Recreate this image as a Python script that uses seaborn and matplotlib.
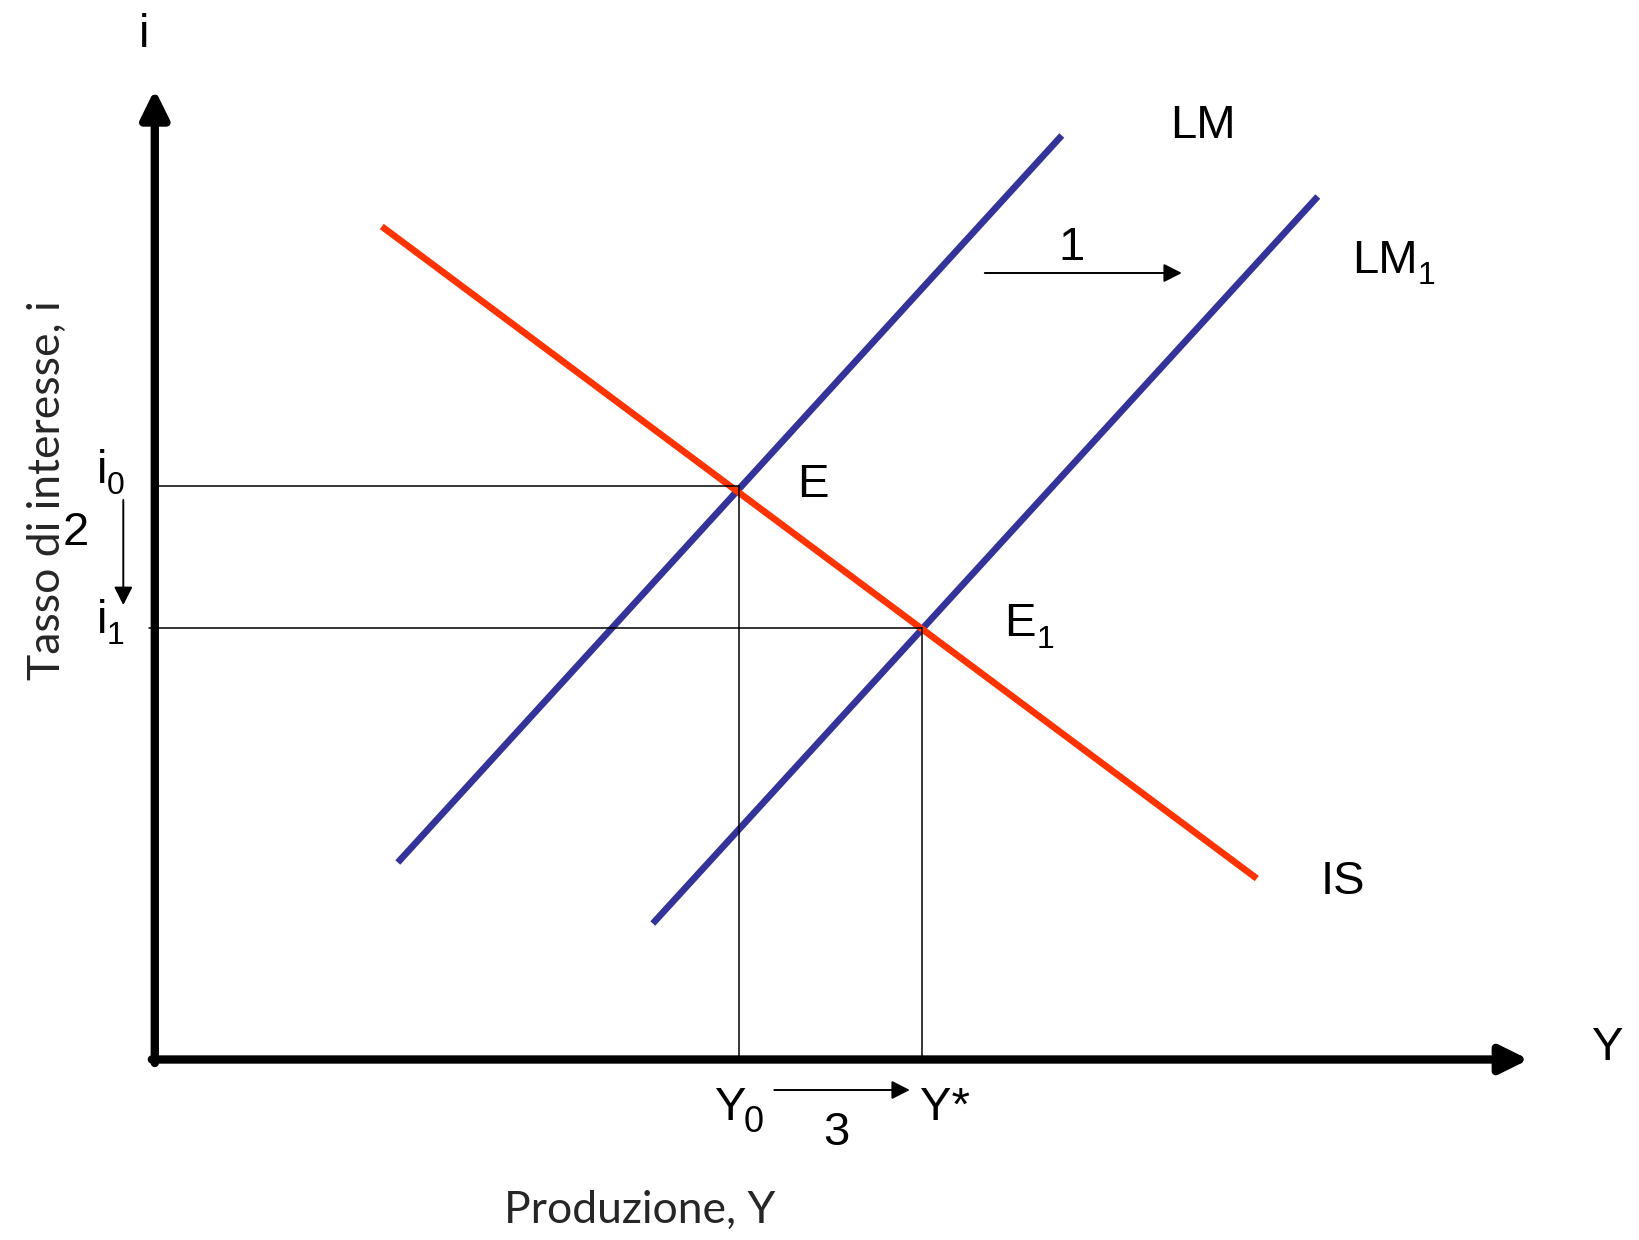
import pandas as pd
import matplotlib
matplotlib.use("Agg")
import matplotlib.pyplot as plt
import seaborn as sns

# ===== DATA (schematic IS-LM, arbitrary units, origin at axes corner) =====
curve_names = ['LM', 'LM', 'LM1', 'LM1', 'IS', 'IS']
curve_y = [2.43, 9.07, 4.98, 11.63, 2.27, 11.02]
curve_i = [1.97, 9.24, 1.36, 8.63, 8.33, 1.81]

eq_E = (5.84, 5.74)     # (Y0, i0)
eq_E1 = (7.67, 4.32)    # (Y*, i1)

axis_y_max = 13.74
axis_i_max = 9.70

# ===== STYLE =====
sns.set_theme(style='white')
plt.rcParams['font.family'] = ['Liberation Sans', 'DejaVu Sans']

colors = {'LM': '#333399', 'LM1': '#333399', 'IS': '#FF3300'}
fs = 34

fig = plt.figure(figsize=(16.4, 12.4), dpi=100)
ax = fig.add_axes([0, 0, 1, 1])
ax.set_xlim(-1.548, 14.852)
ax.set_ylim(-1.805, 10.595)
ax.axis('off')

# ===== CURVES =====
df = pd.DataFrame({'curve': curve_names, 'Y': curve_y, 'i': curve_i})
sns.lineplot(data=df, x='Y', y='i', hue='curve', palette=colors, units='curve',
             estimator=None, sort=False, linewidth=4.8, legend=False, ax=ax,
             solid_capstyle='butt')

# ===== GUIDE LINES =====
ax.plot([0, eq_E[0]], [eq_E[1], eq_E[1]], color='black', lw=1.1)
ax.plot([eq_E[0], eq_E[0]], [0, eq_E[1]], color='black', lw=1.1)
ax.plot([-0.06, eq_E1[0]], [eq_E1[1], eq_E1[1]], color='black', lw=1.1)
ax.plot([eq_E1[0], eq_E1[0]], [0, eq_E1[1]], color='black', lw=1.1)

# ===== AXES WITH ARROWS =====
big = dict(arrowstyle='-|>,head_length=0.85,head_width=0.42', color='black',
           lw=6, mutation_scale=20, shrinkA=0, shrinkB=0)
ax.annotate('', xy=(axis_y_max, 0), xytext=(-0.03, 0), arrowprops=big)
ax.annotate('', xy=(0, axis_i_max), xytext=(0, -0.035), arrowprops=big)

small = dict(arrowstyle='-|>,head_length=0.55,head_width=0.28', color='black',
             lw=1.4, mutation_scale=20, shrinkA=0, shrinkB=0)
ax.annotate('', xy=(10.27, 7.865), xytext=(8.30, 7.865), arrowprops=small)
ax.annotate('', xy=(-0.315, 4.545), xytext=(-0.315, 5.595), arrowprops=small)
ax.annotate('', xy=(7.55, -0.305), xytext=(6.195, -0.305), arrowprops=small)

# ===== LABELS =====
renderer = fig.canvas.get_renderer()


def label(x, y, s, ha='left', sub=None, sub_size=23, gap=0, drop=8):
    t = ax.text(x, y, s, fontsize=fs, ha=ha, va='baseline', color='black')
    if sub:
        w = t.get_window_extent(renderer).width * 72 / fig.dpi
        ax.annotate(sub, xy=(x, y), xytext=(w + gap, -drop), textcoords='offset points',
                    fontsize=sub_size, ha='left', va='baseline', color='black')


label(-0.157, 10.124, 'i')
label(14.37, -0.005, 'Y')
label(10.15, 9.212, 'LM')
label(11.97, 7.862, 'LM', sub='1', gap=0)
label(11.66, 1.653, 'IS')
label(6.42, 5.627, 'E')
label(8.49, 4.23, 'E', sub='1', gap=0.8)
label(9.17, 8.00, '1', ha='center')
label(-0.58, 5.762, 'i', sub='0', gap=-0.5)
label(-0.575, 4.262, 'i', sub='1', gap=-0.5)
label(-0.795, 5.145, '2', ha='center')
label(5.60, -0.605, 'Y', sub='0', sub_size=26, gap=-2, drop=9)
label(7.65, -0.605, 'Y*')
label(6.82, -0.855, '3', ha='center')

ax.text(4.85, -1.638, 'Produzione, Y', fontsize=32, ha='center', va='baseline',
        family=['Lato', 'DejaVu Sans'])
ax.text(-1.07, 5.69, 'Tasso di interesse, i', fontsize=32, ha='center', va='center',
        rotation=90, family=['Lato', 'DejaVu Sans'])

fig.savefig('out.png', dpi=100)
